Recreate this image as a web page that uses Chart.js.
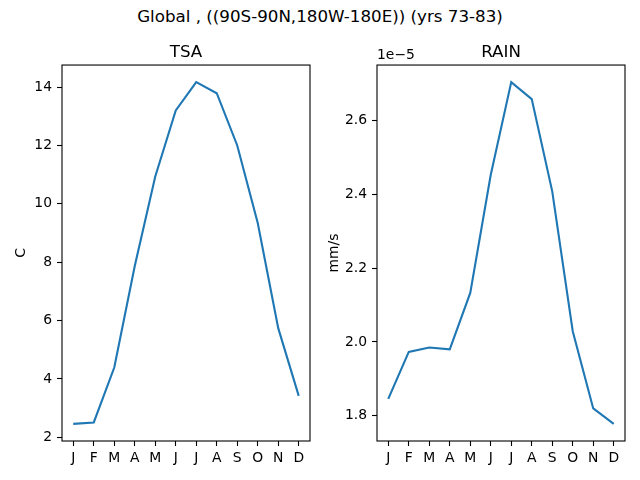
<!DOCTYPE html>
<html><head><meta charset="utf-8">
<script src="https://cdn.jsdelivr.net/npm/chart.js@4.4.1/dist/chart.umd.min.js"></script>
<style>
html,body{margin:0;padding:0;background:#fff;width:640px;height:480px;overflow:hidden;}
#sup{position:absolute;left:0;top:6px;width:640px;text-align:center;font:16.7px "DejaVu Sans";color:#000;line-height:20px;}
canvas{position:absolute;top:0;}
</style></head><body>
<div id="sup">Global , ((90S-90N,180W-180E)) (yrs 73-83)</div>
<canvas id="c1" width="320" height="480" style="left:0"></canvas>
<canvas id="c2" width="320" height="480" style="left:320px"></canvas>
<script>
const months = ['J','F','M','A','M','J','J','A','S','O','N','D'];
const tsaValues = [2.46, 2.51, 4.39, 7.87, 10.94, 13.20, 14.17, 13.79, 12.00, 9.34, 5.74, 3.42];
const rainValues = [1.846e-5, 1.973e-5, 1.985e-5, 1.980e-5, 2.133e-5, 2.453e-5, 2.704e-5, 2.658e-5, 2.408e-5, 2.029e-5, 1.820e-5, 1.778e-5];
const tsaTicks = [2, 4, 6, 8, 10, 12, 14];
const rainScale = 1e-5;
const rainOffsetLabel = '1e\u22125';
const rainTickLabels = ['1.8', '2.0', '2.2', '2.4', '2.6'];

const FONT = '"DejaVu Sans"';
const LINE = '#1f77b4';

const frame = {
  id: 'frame',
  afterDraw(chart, args, opts) {
    const {ctx, chartArea: a} = chart;
    ctx.save();
    ctx.strokeStyle = '#000';
    ctx.lineWidth = 1.1;
    ctx.strokeRect(a.left, a.top, a.right - a.left, a.bottom - a.top);
    if (opts && opts.offsetText) {
      ctx.fillStyle = '#000';
      ctx.font = '13.9px ' + FONT;
      ctx.textAlign = 'left';
      ctx.textBaseline = 'bottom';
      ctx.fillText(opts.offsetText, a.left, a.top - 3);
    }
    ctx.restore();
  }
};

function margins(vals) {
  const mn = Math.min(...vals), mx = Math.max(...vals), r = mx - mn;
  return {min: mn - 0.05 * r, max: mx + 0.05 * r};
}

function makeChart(id, title, yTitle, vals, yTickVals, yTickLabels, yWidth, padRight, offsetText, yTitlePad) {
  const m = margins(vals);
  return new Chart(document.getElementById(id), {
    type: 'line',
    data: {
      datasets: [{
        data: vals.map((v, i) => ({x: i, y: v})),
        borderColor: LINE,
        borderWidth: 2.1,
        pointRadius: 0,
        tension: 0,
        fill: false
      }]
    },
    plugins: [frame],
    options: {
      responsive: false,
      animation: false,
      devicePixelRatio: 1,
      layout: {padding: {left: 0, right: padRight, top: 0, bottom: 0}},
      plugins: {
        legend: {display: false},
        tooltip: {enabled: false},
        frame: {offsetText: offsetText},
        title: {
          display: true, text: title, color: '#000', fullSize: false,
          font: {family: FONT, size: 16.7, weight: 'normal', lineHeight: 1.2},
          padding: {top: 43, bottom: 2}
        }
      },
      scales: {
        x: {
          type: 'linear',
          min: -0.55, max: 11.55,
          afterBuildTicks: s => { s.ticks = months.map((_, i) => ({value: i})); },
          afterFit: s => { s.height = 39; },
          grid: {display: true, drawOnChartArea: false, drawTicks: true, tickLength: 5, color: '#000', tickWidth: 1.1},
          border: {display: false},
          ticks: {
            color: '#000', font: {family: FONT, size: 13.9}, padding: 4, maxRotation: 0, autoSkip: false,
            callback: v => months[v]
          }
        },
        y: {
          type: 'linear',
          min: m.min, max: m.max,
          afterBuildTicks: s => { s.ticks = yTickVals.map(v => ({value: v})); },
          afterFit: s => { s.width = yWidth; },
          grid: {display: true, drawOnChartArea: false, drawTicks: true, tickLength: 5, color: '#000', tickWidth: 1.1},
          border: {display: false},
          title: {display: true, text: yTitle, color: '#000', font: {family: FONT, size: 13.9}, padding: {top: yTitlePad, bottom: 0}},
          ticks: {
            color: '#000', font: {family: FONT, size: 13.9}, padding: 5, autoSkip: false,
            callback: (v, i) => yTickLabels[i]
          }
        }
      }
    }
  });
}

const tsaLabels = tsaTicks.map(String);
makeChart('c1', 'TSA', 'C', tsaValues, tsaTicks, tsaLabels, 62, 10, null, 13);
const rainMant = rainValues.map(v => v / rainScale);
const rainTickVals = rainTickLabels.map(Number);
makeChart('c2', 'RAIN', 'mm/s', rainMant, rainTickVals, rainTickLabels, 57, 15, rainOffsetLabel, 6);
</script>
</body></html>
